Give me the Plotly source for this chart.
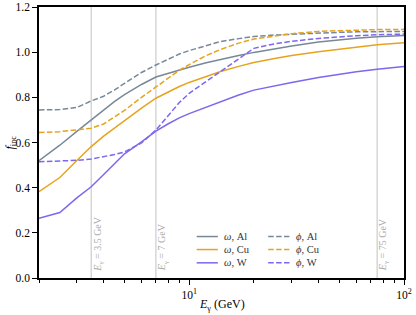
import plotly.graph_objects as go
import math

# photon energy grid (GeV)
energies = [2, 2.5, 3, 3.5, 4, 4.5, 5, 6, 7, 8, 9, 10, 12, 14, 17, 20, 25, 30, 40, 50, 60, 75, 100]

omega_al = [0.52, 0.588, 0.649, 0.70, 0.745, 0.782, 0.812, 0.857, 0.89, 0.907, 0.921, 0.933, 0.953,
            0.968, 0.985, 0.999, 1.015, 1.027, 1.045, 1.056, 1.062, 1.068, 1.074]
omega_cu = [0.382, 0.445, 0.52, 0.582, 0.628, 0.665, 0.697, 0.752, 0.796, 0.825, 0.848, 0.866, 0.893,
            0.914, 0.937, 0.954, 0.972, 0.985, 1.002, 1.014, 1.024, 1.033, 1.042]
omega_w = [0.264, 0.29, 0.355, 0.404, 0.458, 0.505, 0.55, 0.603, 0.65, 0.683, 0.709, 0.728, 0.757,
           0.782, 0.81, 0.832, 0.852, 0.866, 0.888, 0.902, 0.913, 0.924, 0.936]
phi_al = [0.744, 0.746, 0.755, 0.784, 0.805, 0.833, 0.862, 0.91, 0.943, 0.97, 0.992, 1.007, 1.03,
          1.047, 1.06, 1.069, 1.076, 1.08, 1.086, 1.088, 1.09, 1.091, 1.092]
phi_cu = [0.644, 0.648, 0.656, 0.663, 0.682, 0.713, 0.742, 0.80, 0.847, 0.888, 0.92, 0.945, 0.985,
          1.012, 1.04, 1.058, 1.073, 1.082, 1.092, 1.096, 1.099, 1.10, 1.101]
phi_w = [0.515, 0.517, 0.521, 0.527, 0.537, 0.547, 0.558, 0.598, 0.655, 0.72, 0.777, 0.818, 0.87,
         0.913, 0.97, 1.017, 1.037, 1.048, 1.061, 1.068, 1.073, 1.077, 1.08]

series_names = ["<i>ω</i>, Al", "<i>ω</i>, Cu", "<i>ω</i>, W",
                "<i>ϕ</i>, Al", "<i>ϕ</i>, Cu", "<i>ϕ</i>, W"]
series_values = [omega_al, omega_cu, omega_w, phi_al, phi_cu, phi_w]

ref_energies = [3.5, 7, 75]
ref_labels = ["<i>E</i><sub>γ</sub> = 3.5 GeV", "<i>E</i><sub>γ</sub> = 7 GeV", "<i>E</i><sub>γ</sub> = 75 GeV"]

y_ticks = [0.0, 0.2, 0.4, 0.6, 0.8, 1.0, 1.2]
x_ticks = [10, 100]
x_ticktext = ["10<sup>1</sup>", "10<sup>2</sup>"]
x_minor = [2, 3, 4, 5, 6, 7, 8, 9, 20, 30, 40, 50, 60, 70, 80, 90]

colors = ["#778899", "#E6A31E", "#7B68EE"]
FONT = "Liberation Serif"

fig = go.Figure()

for i, (name, vals) in enumerate(zip(series_names, series_values)):
    dashed = i >= 3
    fig.add_trace(go.Scatter(
        x=energies, y=vals, mode="lines", name=name, showlegend=False,
        line=dict(color=colors[i % 3], width=1.5,
                  dash="5.5px,2.4px" if dashed else "solid"),
    ))

for e, lab in zip(ref_energies, ref_labels):
    fig.add_vline(x=e, line=dict(color="#cccccc", width=1.2), layer="below")
    fig.add_annotation(x=math.log10(e), y=0.02, xref="x", yref="y", text=lab,
                       textangle=-90, showarrow=False, xanchor="center", yanchor="bottom",
                       xshift=7, font=dict(family=FONT, size=10, color="#aaaaaa"))

# manual legend (two columns of three rows)
col_x = [0.432, 0.628]   # paper fraction for line start
row_y = [0.153, 0.105, 0.056]
line_len = 0.058
for i, name in enumerate(series_names):
    c = i // 3
    r = i % 3
    x0 = col_x[c]
    y0 = row_y[r]
    fig.add_shape(type="line", xref="paper", yref="paper", x0=x0, x1=x0 + line_len,
                  y0=y0, y1=y0,
                  line=dict(color=colors[r], width=1.5,
                            dash="5.5px,2.4px" if c == 1 else "solid"))
    fig.add_annotation(xref="paper", yref="paper", x=x0 + line_len + 0.012, y=y0,
                       text=name, showarrow=False, xanchor="left", yanchor="middle",
                       font=dict(family=FONT, size=10.5, color="#333333"))

# axis titles as annotations for exact placement
fig.add_annotation(xref="paper", yref="paper", x=0.5, y=0, yshift=-27,
                   text="<i>E</i><sub>γ</sub> (GeV)", showarrow=False,
                   xanchor="center", yanchor="middle",
                   font=dict(family=FONT, size=12, color="black"))
fig.add_annotation(xref="paper", yref="paper", x=0, y=0.5, xshift=-29,
                   text="<i>f</i><sub>inc</sub>", showarrow=False, textangle=-90,
                   xanchor="center", yanchor="middle",
                   font=dict(family=FONT, size=12, color="black"))

fig.update_xaxes(
    type="log", range=[math.log10(2), 2], automargin=False,
    tickvals=x_ticks, ticktext=x_ticktext,
    ticks="outside", ticklen=5, tickwidth=1.2, tickcolor="black",
    minor=dict(tickmode="array", tickvals=x_minor, ticks="outside", ticklen=3,
               tickwidth=0.9, tickcolor="black", showgrid=False),
    showline=True, linecolor="black", linewidth=1.5, mirror=True,
    showgrid=False, zeroline=False,
    tickfont=dict(family=FONT, size=11.5, color="black"),
)
fig.update_yaxes(
    range=[0, 1.2], tickvals=y_ticks, tickformat=".1f", automargin=False,
    ticks="outside", ticklen=5, tickwidth=1.2, tickcolor="black",
    showline=True, linecolor="black", linewidth=1.5, mirror=True,
    showgrid=False, zeroline=False,
    tickfont=dict(family=FONT, size=11.5, color="black"),
)

fig.update_layout(
    width=416, height=315,
    margin=dict(l=39, r=12, t=7, b=37),
    paper_bgcolor="white", plot_bgcolor="white",
    font=dict(family=FONT, color="black"),
)

fig.write_html("out.html", config={"displayModeBar": False},
               post_script="document.body.style.margin='0';document.body.style.overflow='hidden';")
